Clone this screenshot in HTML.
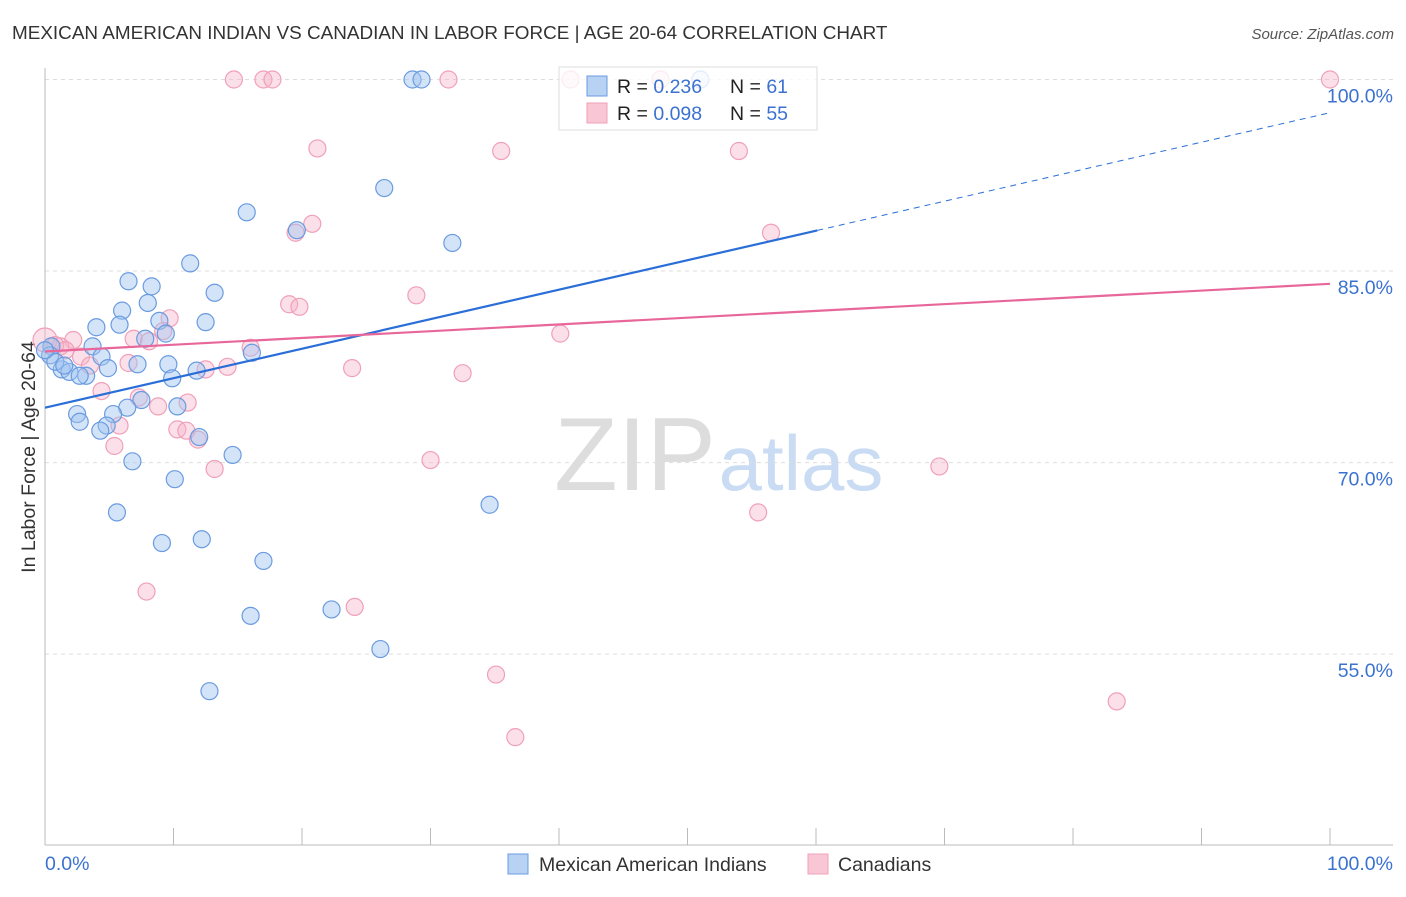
<!DOCTYPE html>
<html><head><meta charset="utf-8"><style>
body{margin:0;background:#fff;font-family:"Liberation Sans",sans-serif}
svg text{font-family:"Liberation Sans",sans-serif}
</style></head><body>
<svg id="chart" width="1406" height="892">
<text x="12" y="39" font-size="18.9" fill="#333">MEXICAN AMERICAN INDIAN VS CANADIAN IN LABOR FORCE | AGE 20-64 CORRELATION CHART</text>
<text x="1394" y="39" font-size="15" fill="#555" text-anchor="end" font-style="italic">Source: ZipAtlas.com</text>
<text x="35" y="457" font-size="19.5" fill="#333" text-anchor="middle" transform="rotate(-90 35 457)">In Labor Force | Age 20-64</text>
<g><text x="635" y="490" font-size="104" fill="#ddd" text-anchor="middle" font-family="Liberation Serif">ZIP</text><text x="801" y="490" font-size="78" fill="#c9dcf3" text-anchor="middle">atlas</text></g>
<g id="grid"></g><g id="axes"></g><g id="marks"></g>
<g>
<rect x="559" y="67" width="258" height="63" fill="#fff" fill-opacity="0.8" stroke="#ddd"/>
<rect x="587" y="76" width="20" height="20" fill="#b8d2f4" stroke="#6a9be0"/>
<rect x="587" y="103" width="20" height="20" fill="#f8c6d4" stroke="#f0a0b8"/>
<text x="617" y="93" font-size="19.5" fill="#222">R = <tspan fill="#3b72d0">0.236</tspan><tspan x="730">N = </tspan><tspan fill="#3b72d0">61</tspan></text>
<text x="617" y="120" font-size="19.5" fill="#222">R = <tspan fill="#3b72d0">0.098</tspan><tspan x="730">N = </tspan><tspan fill="#3b72d0">55</tspan></text>
</g>
<g>
<rect x="508" y="854" width="20" height="20" fill="#b8d2f4" stroke="#6a9be0"/>
<text x="539" y="871" font-size="19.5" fill="#333">Mexican American Indians</text>
<rect x="808" y="854" width="20" height="20" fill="#f8c6d4" stroke="#f0a0b8"/>
<text x="838" y="871" font-size="19.5" fill="#333">Canadians</text>
</g>
</svg>
<script>
const yTicks=[100,85,70,55];
const yTickLabels=["100.0%","85.0%","70.0%","55.0%"];
const blueX=[28.6,29.3,51.0,26.4,15.7,31.7,19.6,11.3,6.5,8.3,13.2,8.0,6.0,12.5,4.0,5.8,8.9,9.4,7.8,3.7,0.5,4.4,16.1,9.6,7.2,4.9,1.3,1.9,3.2,11.8,9.9,0.4,0.8,2.7,7.5,6.4,10.3,5.3,2.5,2.7,4.8,4.3,12.0,14.6,6.8,10.1,34.6,5.6,12.2,9.1,17.0,22.3,16.0,26.1,12.8,1.5,0];
const blueY=[100,100,100,91.5,89.6,87.2,88.2,85.6,84.2,83.8,83.3,82.5,81.9,81.0,80.6,80.8,81.1,80.1,79.7,79.1,79.1,78.3,78.6,77.7,77.7,77.4,77.3,77.1,76.8,77.2,76.6,78.4,77.9,76.8,74.9,74.3,74.4,73.8,73.8,73.2,72.9,72.5,72.0,70.6,70.1,68.7,66.7,66.1,64.0,63.7,62.3,58.5,58.0,55.4,52.1,77.6,78.8];
const pinkX=[0,14.7,17.0,17.7,31.4,40.9,47.9,100,21.2,35.5,54.0,20.8,19.5,56.5,19.0,19.8,28.9,9.7,9.2,40.1,6.9,8.1,2.2,1.2,16.0,2.8,6.5,12.5,14.2,23.9,32.5,3.5,4.4,7.3,8.8,11.1,5.8,10.3,11.0,5.4,11.9,30.0,13.2,69.6,55.5,7.9,24.1,35.1,36.6,83.4,0.8,1.6];
const pinkY=[79.6,100,100,100,100,100,100,100,94.6,94.4,94.4,88.7,88.0,88.0,82.4,82.2,83.1,81.3,80.3,80.1,79.7,79.5,79.6,79.1,79.0,78.3,77.8,77.3,77.5,77.4,77.0,77.6,75.6,75.1,74.4,74.7,72.9,72.6,72.5,71.3,71.8,70.2,69.5,69.7,66.1,59.9,58.7,53.4,48.5,51.3,79.2,78.8];
const blueTrend=[74.3,97.4];
const pinkTrend=[78.7,84.0];
const sx=v=>45+v*12.85, sy=v=>79.5+(100-v)*12.77;
const NS="http://www.w3.org/2000/svg";
function mk(t,a,p){const e=document.createElementNS(NS,t);for(const k in a)e.setAttribute(k,a[k]);p.appendChild(e);return e;}
const grid=document.getElementById('grid'),axes=document.getElementById('axes'),marks=document.getElementById('marks');
yTicks.forEach((t,i)=>{
 const l=mk('line',{x1:45,x2:1393,y1:sy(t),y2:sy(t),stroke:'#ddd','stroke-dasharray':'4,4'},grid);
 
 
 const tx=mk('text',{x:1393,y:sy(t)+23,'font-size':19.5,fill:'#3b72d0','text-anchor':'end'},grid);
 tx.textContent=yTickLabels[i];
 
 
});
mk('line',{x1:45,x2:45,y1:68,y2:845,stroke:'#bbb'},axes);
mk('line',{x1:45,x2:1393,y1:845,y2:845,stroke:'#bbb'},axes);
for(let i=0;i<=10;i++){const t=mk('line',{x1:sx(i*10),x2:sx(i*10),y1:828,y2:845,stroke:'#bbb'},axes);
 
 }
const x0=mk('text',{x:45,y:870,'font-size':19.5,fill:'#3b72d0'},axes);x0.textContent='0.0%';


const x1=mk('text',{x:1393,y:870,'font-size':19.5,fill:'#3b72d0','text-anchor':'end'},axes);x1.textContent='100.0%';


pinkX.forEach((x,i)=>{const c=mk('circle',{cx:sx(x),cy:sy(pinkY[i]),r:i==0?12:8.5,fill:'rgba(246,178,200,0.4)',stroke:'#f0a0b8','stroke-width':1.2},marks);
 
 });
blueX.forEach((x,i)=>{const c=mk('circle',{cx:sx(x),cy:sy(blueY[i]),r:8.5,fill:'rgba(160,196,240,0.45)',stroke:'#6a9be0','stroke-width':1.2},marks);
 
 });
const bAt=x=>blueTrend[0]+(blueTrend[1]-blueTrend[0])*x/100;
const bl=mk('line',{x1:sx(0),y1:sy(bAt(0)),x2:sx(60.1),y2:sy(bAt(60.1)),stroke:'#2a6ed8','stroke-width':2.2},marks);


const bd=mk('line',{x1:sx(60.1),y1:sy(bAt(60.1)),x2:sx(100),y2:sy(bAt(100)),stroke:'#2a6ed8','stroke-width':1,'stroke-dasharray':'6,5'},marks);


const pl=mk('line',{x1:sx(0),y1:sy(pinkTrend[0]),x2:sx(100),y2:sy(pinkTrend[1]),stroke:'#e8679a','stroke-width':2.2},marks);


</script>
</body></html>
